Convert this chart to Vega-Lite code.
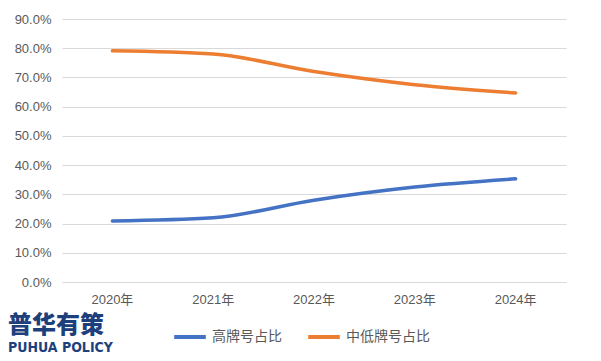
{
  "$schema": "https://vega.github.io/schema/vega-lite/v6.json",
  "width": 504,
  "height": 263,
  "autosize": {"type": "none"},
  "padding": {"left": 62, "top": 19, "right": 35, "bottom": 79},
  "background": "white",
  "config": {
    "font": "Liberation Sans, Noto Sans CJK SC",
    "view": {"stroke": null}
  },
  "title": {
    "text": "普华有策",
    "subtitle": "PUHUA POLICY",
    "orient": "bottom",
    "anchor": "start",
    "frame": "group",
    "dx": -54,
    "offset": 0,
    "dy": -31,
    "fontSize": 24,
    "fontWeight": 900,
    "color": "#1d3f7c",
    "font": "Noto Sans CJK SC",
    "subtitleFont": "DejaVu Sans Condensed, Roboto Condensed, Liberation Sans Narrow, Liberation Sans",
    "subtitleFontSize": 14,
    "subtitleFontWeight": "bold",
    "subtitleColor": "#1d3f7c",
    "subtitlePadding": 3
  },
  "data": {
    "values": [
      {"year": "2020年", "series": "高牌号占比", "value": 0.209},
      {"year": "2021年", "series": "高牌号占比", "value": 0.220},
      {"year": "2022年", "series": "高牌号占比", "value": 0.280},
      {"year": "2023年", "series": "高牌号占比", "value": 0.325},
      {"year": "2024年", "series": "高牌号占比", "value": 0.353},
      {"year": "2020年", "series": "中低牌号占比", "value": 0.791},
      {"year": "2021年", "series": "中低牌号占比", "value": 0.780},
      {"year": "2022年", "series": "中低牌号占比", "value": 0.720},
      {"year": "2023年", "series": "中低牌号占比", "value": 0.675},
      {"year": "2024年", "series": "中低牌号占比", "value": 0.647}
    ]
  },
  "mark": {"type": "line", "strokeWidth": 3.5, "interpolate": "monotone", "strokeCap": "round"},
  "encoding": {
    "x": {
      "field": "year",
      "type": "ordinal",
      "scale": {"type": "band", "paddingInner": 0, "paddingOuter": 0},
      "axis": {
        "title": null,
        "labelAngle": 0,
        "labelColor": "#595959",
        "labelFontSize": 13,
        "labelPadding": 11,
        "ticks": false,
        "domainColor": "#d9d9d9",
        "domainWidth": 1,
        "grid": false
      }
    },
    "y": {
      "field": "value",
      "type": "quantitative",
      "scale": {"domain": [0, 0.9]},
      "axis": {
        "title": null,
        "format": ".1%",
        "values": [0, 0.1, 0.2, 0.3, 0.4, 0.5, 0.6, 0.7, 0.8, 0.9],
        "labelColor": "#595959",
        "labelFontSize": 13,
        "labelPadding": 11,
        "ticks": false,
        "domain": false,
        "gridColor": "#d9d9d9",
        "gridWidth": 1
      }
    },
    "color": {
      "field": "series",
      "type": "nominal",
      "sort": ["高牌号占比", "中低牌号占比"],
      "scale": {"domain": ["高牌号占比", "中低牌号占比"], "range": ["#4472c4", "#ed7d31"]},
      "legend": {
        "title": null,
        "orient": "none",
        "legendX": 110,
        "legendY": 300,
        "direction": "horizontal",
        "symbolType": "stroke",
        "symbolStrokeWidth": 4,
        "symbolSize": 1000,
        "labelFontSize": 14,
        "labelColor": "#595959",
        "columnPadding": 18
      }
    }
  }
}
